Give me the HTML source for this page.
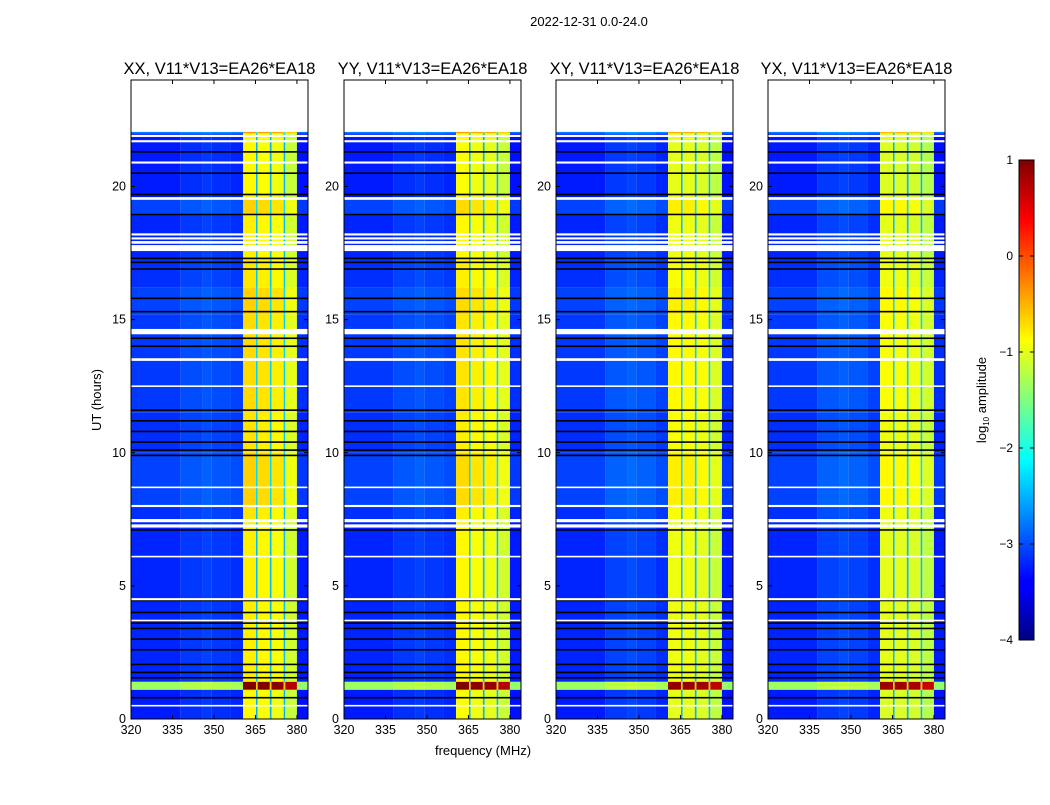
<!DOCTYPE html>
<html><head><meta charset="utf-8">
<style>
body{margin:0;background:#fff;font-family:"Liberation Sans",sans-serif;}
svg text{font-family:"Liberation Sans",sans-serif;}
</style></head>
<body>
<svg id="fig" width="1050" height="800" xmlns="http://www.w3.org/2000/svg">
<rect width="1050" height="800" fill="#fff"/>
<text x="589" y="26" font-size="13" text-anchor="middle">2022-12-31 0.0-24.0</text>
<text x="101" y="400" font-size="13" text-anchor="middle" transform="rotate(-90 101 400)">UT (hours)</text>
<text x="483" y="755" font-size="13" text-anchor="middle">frequency (MHz)</text>
<g id="panels"></g>
<defs><linearGradient id="jet" x1="0" y1="1" x2="0" y2="0">
<stop offset="0" stop-color="#00007f"/><stop offset="0.11" stop-color="#0000ff"/><stop offset="0.125" stop-color="#0000ff"/>
<stop offset="0.375" stop-color="#00ffff"/><stop offset="0.5" stop-color="#7fff7f"/><stop offset="0.625" stop-color="#ffff00"/>
<stop offset="0.875" stop-color="#ff0000"/><stop offset="1" stop-color="#7f0000"/></linearGradient></defs>
<g>
<rect x="1019" y="160" width="15" height="480" fill="url(#jet)" stroke="#000" stroke-width="1"/>
<g id="cbticks"></g>
<text x="986" y="400" font-size="13" text-anchor="middle" transform="rotate(-90 986 400)">log<tspan font-size="8" dy="3">10</tspan><tspan dy="-3"> amplitude</tspan></text>
</g>
</svg>
<script>
// ---- data ----
const panelTitles = ["XX, V11*V13=EA26*EA18","YY, V11*V13=EA26*EA18","XY, V11*V13=EA26*EA18","YX, V11*V13=EA26*EA18"];
const xTicks = [320,335,350,365,380];
const yTicks = [0,5,10,15,20];
const cbTicks = [1,0,-1,-2,-3,-4];
const freqEdges = [320,338,346,349,356,360.5,365.2,365.8,370.2,370.8,375.2,375.8,380,384];
// per-panel band levels (log10 amplitude) for each freq bin
const bandXX = [-3.25,-3.15,-3.1,-3.15,-3.2,-0.85,-2.5,-0.9,-2.5,-0.95,-2.5,-1.15,-3.3];
const bandYY = [-3.25,-3.15,-3.1,-3.15,-3.2,-0.9,-2.5,-0.95,-2.5,-1.0,-2.5,-1.15,-3.3];
const bandXY = [-3.25,-3.1,-3.05,-3.1,-3.2,-1.0,-2.5,-1.0,-2.5,-1.05,-2.5,-1.2,-3.3];
const bandYX = [-3.25,-3.1,-3.05,-3.1,-3.2,-1.05,-2.5,-1.05,-2.5,-1.1,-2.5,-1.25,-3.3];
const bands = [bandXX,bandYY,bandXY,bandYX];
// time segments: start hour, end hour, offset added to band levels
const segStart = [0,1.1,1.4,4.5,7.5,8.0,10.0,11.5,15.2,16.2,17.3,19.0,19.6,22.0];
const segEnd   = [1.1,1.4,4.5,7.5,8.0,10.0,11.5,15.2,16.2,17.3,19.0,19.6,22.0,22.05];
const segOffset= [0.0,1.9,0.05,0.05,0.1,0.2,0.1,0.15,0.2,0.1,0.05,0.2,0.0,0.5];
const whiteLines = [21.9,21.7,20.9,19.55,18.2,18.05,17.9,17.75,17.65,14.55,13.5,12.5,8.7,8.0,7.45,7.25,6.1,4.5,3.7,0.5];
const whiteWidth = [0.08,0.08,0.08,0.1,0.08,0.08,0.1,0.1,0.15,0.2,0.1,0.06,0.06,0.08,0.12,0.12,0.06,0.08,0.06,0.06];
const blackLines = [21.3,20.5,19.7,18.95,17.3,17.15,16.9,15.8,15.3,14.3,14.0,11.6,11.2,10.8,10.4,10.1,9.9,7.1,4.45,4.0,3.6,3.4,3.0,2.6,2.05,1.75,1.55,0.8];
// ---- axes ----
const panelX = [131,344,556,768];
const PW = 177, PTOP = 80, PBOT = 719;
const fMin = 320, fMax = 384, hMin = 0, hMax = 24;
function xs(p,f){return panelX[p] + (f-fMin)/(fMax-fMin)*PW;}
function ys(h){return PBOT - (h-hMin)/(hMax-hMin)*(PBOT-PTOP);}
function jet(v){
  let t=(v+4)/5; t=Math.max(0,Math.min(1,t));
  const c=x=>Math.round(255*Math.max(0,Math.min(1,x)));
  return `rgb(${c(1.5-Math.abs(4*t-3))},${c(1.5-Math.abs(4*t-2))},${c(1.5-Math.abs(4*t-1))})`;
}
const NS="http://www.w3.org/2000/svg";
function mk(tag,attrs,parent){const e=document.createElementNS(NS,tag);for(const k in attrs)e.setAttribute(k,attrs[k]);parent.appendChild(e);return e;}
const root=document.getElementById('panels');
for(let p=0;p<4;p++){
  const g=mk('g',{},root);
  
  
  const hm=mk('g',{},g);
  
  
  for(let s=0;s<segStart.length;s++){
    for(let b=0;b<freqEdges.length-1;b++){
      const x0=xs(p,freqEdges[b]),x1=xs(p,freqEdges[b+1]);
      const y0=ys(segEnd[s]),y1=ys(segStart[s]);
      const r=mk('rect',{x:x0,y:y0,width:x1-x0,height:y1-y0,fill:jet(bands[p][b]+segOffset[s])},hm);
      
      
    }
  }
  for(let i=0;i<blackLines.length;i++){
    const r=mk('rect',{x:xs(p,fMin),y:ys(blackLines[i])-0.8,width:PW,height:1.6,fill:'#000'},hm);
    
    
  }
  for(let i=0;i<whiteLines.length;i++){
    const hh=whiteWidth[i]*(PBOT-PTOP)/24;
    const r=mk('rect',{x:xs(p,fMin),y:ys(whiteLines[i])-hh/2,width:PW,height:Math.max(1.2,hh),fill:'#fff'},hm);
    
    
  }
  const fr=mk('rect',{x:panelX[p],y:PTOP,width:PW,height:PBOT-PTOP,fill:'none',stroke:'#000','stroke-width':1},g);
  
  
  const t=mk('text',{x:panelX[p]+PW/2,y:74,'font-size':16.5,'text-anchor':'middle'},g);
  t.textContent=panelTitles[p];
  
  
  for(const f of xTicks){
    const x=xs(p,f);
    mk('line',{x1:x,y1:PBOT,x2:x,y2:PBOT-4,stroke:'#000'},g);
    mk('line',{x1:x,y1:PTOP,x2:x,y2:PTOP+4,stroke:'#000'},g);
    const tl=mk('text',{x:x,y:PBOT+15,'font-size':12.5,'text-anchor':'middle'},g);
    tl.textContent=f;
    
    
  }
  for(const h of yTicks){
    const y=ys(h);
    mk('line',{x1:panelX[p],y1:y,x2:panelX[p]+4,y2:y,stroke:'#000'},g);
    mk('line',{x1:panelX[p]+PW,y1:y,x2:panelX[p]+PW-4,y2:y,stroke:'#000'},g);
    const tl=mk('text',{x:panelX[p]-5,y:y+4,'font-size':12.5,'text-anchor':'end'},g);
    tl.textContent=h;
    
    
  }
}
const cb=document.getElementById('cbticks');
for(const v of cbTicks){
  const y=640-(v+4)/5*480;
  mk('line',{x1:1019,y1:y,x2:1023,y2:y,stroke:'#000'},cb);
  mk('line',{x1:1034,y1:y,x2:1030,y2:y,stroke:'#000'},cb);
  const tl=mk('text',{x:1013,y:y+4,'font-size':12,'text-anchor':'end'},cb);
  tl.textContent=v<0?'\u2212'+Math.abs(v):String(v);
  
  
}
</script>
</body></html>
